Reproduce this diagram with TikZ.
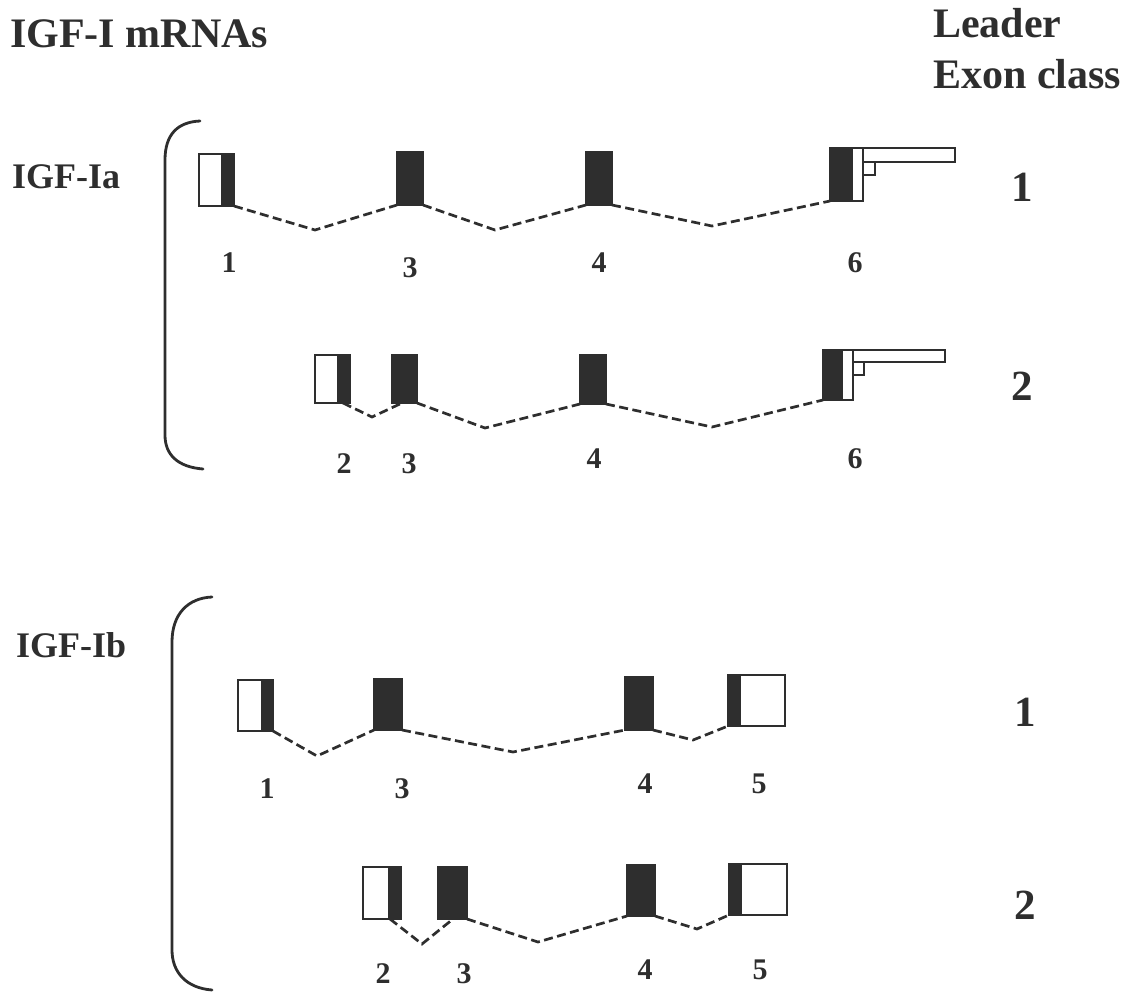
\documentclass[tikz,border=0pt]{standalone}
\usepackage{fontspec}
\setmainfont{Liberation Serif}
\definecolor{ink}{gray}{0.18}
\begin{document}
\begin{tikzpicture}[x=1pt,y=-1pt,
  exon/.style={draw=ink,fill=ink,line width=1.8pt,inner sep=0pt,outer sep=0pt,
    anchor=north west,minimum width=#1},
  hgt/.style={minimum height=#1},
  % white exon with a coding (dark) part on its right side
  leadexon/.style={exon=#1,fill=white},
  darkright/.style={path picture={\fill[ink] ([xshift=-#1]path picture bounding box.north east) rectangle (path picture bounding box.south east);}},
  darkleft/.style={path picture={\fill[ink] (path picture bounding box.north west) rectangle ([xshift=#1]path picture bounding box.south west);}},
  bar/.style={draw=ink,fill=white,line width=1.8pt,inner sep=0pt,outer sep=0pt,anchor=north west,minimum width=#1},
  splice/.style={draw=ink,line width=2.7pt,dash pattern=on 9pt off 4.5pt},
  brk/.style={draw=ink,line width=2.8pt,line cap=round},
  head/.style={font=\bfseries\fontsize{42}{46}\selectfont,text=ink,anchor=base west,inner sep=0pt},
  grp/.style={font=\bfseries\fontsize{36}{40}\selectfont,text=ink,anchor=base west,inner sep=0pt},
  num/.style={font=\bfseries\fontsize{30}{32}\selectfont,text=ink,anchor=base,inner sep=0pt},
  cls/.style={font=\bfseries\fontsize{43}{46}\selectfont,text=ink,anchor=base,inner sep=0pt}]
\useasboundingbox (0,0) rectangle (1136,993);

% headings
\node[head] (title) at (10,47) {IGF-I mRNAs};
\node[head] (leader) at (933,37) {Leader};
\node[head] (exclass) at (933,88) {Exon class};
\node[grp] (ia) at (12,188) {IGF-Ia};
\node[grp] (ib) at (16,657) {IGF-Ib};

% brackets
\draw[brk] (200,121) .. controls (178,122) and (165,134) .. (165,160) -- (165,435)
  .. controls (165,455) and (178,467) .. (203,469);
\draw[brk] (212,597) .. controls (188,598) and (172,614) .. (172,642) -- (172,950)
  .. controls (172,972) and (186,988) .. (212,990);

% ---- IGF-Ia, leader exon class 1
\node[leadexon=35,hgt=52,darkright=13] (a1x1) at (199,154) {};
\node[exon=26,hgt=53] (a1x3) at (397,152) {};
\node[exon=26,hgt=53] (a1x4) at (586,152) {};
\node[exon=33,hgt=53,fill=white,darkleft=23] (a1x6) at (830,148) {};
\node[bar=92,hgt=14] (a1bar) at (a1x6.north east) {};
\node[bar=12,hgt=13] (a1tip) at (a1bar.south west) {};
\coordinate (a1v1) at (315,230);
\coordinate (a1v2) at (495,230);
\coordinate (a1v3) at (712,226);
\draw[splice] (a1x1.south east) -- (a1v1) -- (a1x3.south west);
\draw[splice] (a1x3.south east) -- (a1v2) -- (a1x4.south west);
\draw[splice] (a1x4.south east) -- (a1v3) -- (a1x6.south west);
\node[num] (a1n1) at (229,272) {1};
\node[num] (a1n3) at (410,277) {3};
\node[num] (a1n4) at (599,272) {4};
\node[num] (a1n6) at (855,272) {6};
\node[cls] (a1c) at (1022,201) {1};

% ---- IGF-Ia, leader exon class 2
\node[leadexon=35,hgt=48,darkright=13] (a2x2) at (315,355) {};
\node[exon=25,hgt=48] (a2x3) at (392,355) {};
\node[exon=26,hgt=49] (a2x4) at (580,355) {};
\node[exon=30,hgt=50,fill=white,darkleft=20] (a2x6) at (823,350) {};
\node[bar=92,hgt=12] (a2bar) at (a2x6.north east) {};
\node[bar=11,hgt=13] (a2tip) at (a2bar.south west) {};
\coordinate (a2v1) at (372,417);
\coordinate (a2v2) at (485,428);
\coordinate (a2v3) at (712,427);
\draw[splice] ([xshift=-7pt]a2x2.south east) -- (a2v1) -- ([xshift=10pt]a2x3.south west);
\draw[splice] (a2x3.south east) -- (a2v2) -- (a2x4.south west);
\draw[splice] (a2x4.south east) -- (a2v3) -- (a2x6.south west);
\node[num] (a2n2) at (344,473) {2};
\node[num] (a2n3) at (409,473) {3};
\node[num] (a2n4) at (594,468) {4};
\node[num] (a2n6) at (855,468) {6};
\node[cls] (a2c) at (1022,400) {2};

% ---- IGF-Ib, leader exon class 1
\node[leadexon=35,hgt=51,darkright=12] (b1x1) at (238,680) {};
\node[exon=28,hgt=51] (b1x3) at (374,679) {};
\node[exon=28,hgt=53] (b1x4) at (625,677) {};
\node[exon=57,hgt=51,fill=white,darkleft=13] (b1x5) at (728,675) {};
\coordinate (b1v1) at (317,756);
\coordinate (b1v2) at (513,752);
\coordinate (b1v3) at (693,740);
\draw[splice] (b1x1.south east) -- (b1v1) -- (b1x3.south west);
\draw[splice] (b1x3.south east) -- (b1v2) -- (b1x4.south west);
\draw[splice] (b1x4.south east) -- (b1v3) -- (b1x5.south west);
\node[num] (b1n1) at (267,798) {1};
\node[num] (b1n3) at (402,798) {3};
\node[num] (b1n4) at (645,793) {4};
\node[num] (b1n5) at (759,793) {5};
\node[cls] (b1c) at (1025,726) {1};

% ---- IGF-Ib, leader exon class 2
\node[leadexon=38,hgt=52,darkright=13] (b2x2) at (363,867) {};
\node[exon=29,hgt=52] (b2x3) at (438,867) {};
\node[exon=28,hgt=51] (b2x4) at (627,865) {};
\node[exon=58,hgt=51,fill=white,darkleft=13] (b2x5) at (729,864) {};
\coordinate (b2v1) at (422,944);
\coordinate (b2v2) at (538,942);
\coordinate (b2v3) at (697,929);
\draw[splice] ([xshift=-11pt]b2x2.south east) -- (b2v1) -- ([xshift=15pt]b2x3.south west);
\draw[splice] (b2x3.south east) -- (b2v2) -- (b2x4.south west);
\draw[splice] (b2x4.south east) -- (b2v3) -- (b2x5.south west);
\node[num] (b2n2) at (383,983) {2};
\node[num] (b2n3) at (464,983) {3};
\node[num] (b2n4) at (645,979) {4};
\node[num] (b2n5) at (760,979) {5};
\node[cls] (b2c) at (1025,919) {2};
\end{tikzpicture}
\end{document}
